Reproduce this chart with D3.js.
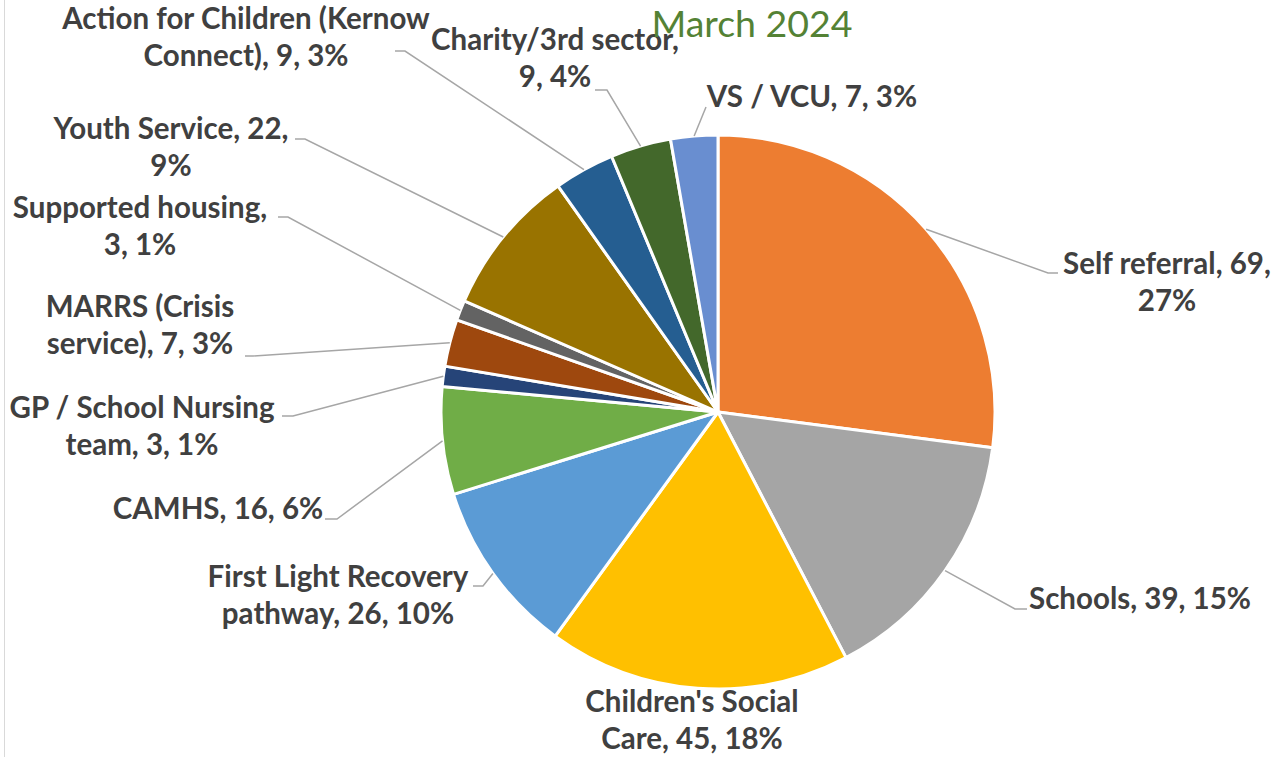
<!DOCTYPE html>
<html>
<head>
<meta charset="utf-8">
<script src="https://cdn.jsdelivr.net/npm/d3@7/dist/d3.min.js"></script>
<style>
  html, body { margin: 0; padding: 0; background: #fff; }
  svg { display: block; }
</style>
</head>
<body>
<div id="plot"></div>
<script>
// data
var categories = ["Self referral", "Schools", "Children's Social Care", "First Light Recovery pathway",
  "CAMHS", "GP / School Nursing team", "MARRS (Crisis service)", "Supported housing",
  "Youth Service", "Action for Children (Kernow Connect)", "Charity/3rd sector", "VS / VCU"];
var counts = [69, 39, 45, 26, 16, 3, 7, 3, 22, 9, 9, 7];
var percents = ["27%", "15%", "18%", "10%", "6%", "1%", "3%", "1%", "9%", "3%", "4%", "3%"];
// how excel wrapped each label
var labelLines = [
  ["Self referral, 69,", "27%"],
  ["Schools, 39, 15%"],
  ["Children's Social", "Care, 45, 18%"],
  ["First Light Recovery", "pathway, 26, 10%"],
  ["CAMHS, 16, 6%"],
  ["GP / School Nursing", "team, 3, 1%"],
  ["MARRS (Crisis", "service), 7, 3%"],
  ["Supported housing,", "3, 1%"],
  ["Youth Service, 22,", "9%"],
  ["Action for Children (Kernow", "Connect), 9, 3%"],
  ["Charity/3rd sector,", "9, 4%"],
  ["VS / VCU, 7, 3%"]
];
var colors = ["#ED7D31", "#A5A5A5", "#FFC000", "#5B9BD5", "#70AD47", "#264478",
  "#9E480E", "#636363", "#997300", "#255E91", "#43682B", "#698ED0"];
var title = "March 2024";

// label placement: text centre x, first baseline y, leader elbow + end
var labelLayout = [
  {x: 1167, y: 274, elbow: [1048, 273], end: [1058, 273]},
  {x: 1140, y: 609, elbow: [1015, 609], end: [1027, 609]},
  {x: 692, y: 712, elbow: null},
  {x: 338, y: 587, elbow: [483, 586], end: [473, 586]},
  {x: 218, y: 519, elbow: [337, 519], end: [325, 519]},
  {x: 142, y: 418, elbow: [293, 416], end: [282, 416]},
  {x: 140, y: 317, elbow: [253, 356], end: [245, 356]},
  {x: 140, y: 218, elbow: [288, 217], end: [278, 217]},
  {x: 171, y: 139, elbow: [305, 139], end: [295, 139]},
  {x: 246, y: 29, elbow: [405, 51], end: [395, 51]},
  {x: 555, y: 50, elbow: [607, 90], end: [595, 90]},
  {x: 812, y: 107, elbow: [706, 107], end: [706, 107]}
];

var width = 1280, height = 757;
var cx = 718, cy = 412, radius = 277;
var lineHeight = 37;

var svg = d3.select("#plot").append("svg")
  .attr("width", width)
  .attr("height", height);

// chart area border on the left
svg.append("line")
  .attr("x1", 4.5).attr("x2", 4.5)
  .attr("y1", 0).attr("y2", height)
  .attr("stroke", "#D9D9D9")
  .attr("stroke-width", 1);

var data = categories.map((c, i) => ({name: c, value: counts[i], i: i}));

var pie = d3.pie().sort(null).value(d => d.value);
var arcs = pie(data);
var arc = d3.arc().innerRadius(0).outerRadius(radius);

var g = svg.append("g").attr("transform", "translate(" + cx + "," + cy + ")");

g.selectAll("path.slice")
  .data(arcs)
  .enter()
  .append("path")
    .attr("class", "slice")
    .attr("d", arc)
    .attr("fill", d => colors[d.data.i])
    .attr("stroke", "#fff")
    .attr("stroke-width", 3)
    .attr("stroke-linejoin", "round");

// leader lines from the outer edge at the slice middle
var edge = d3.arc().innerRadius(radius).outerRadius(radius);
svg.selectAll("path.leader")
  .data(arcs.filter(d => labelLayout[d.data.i].elbow))
  .enter()
  .append("path")
    .attr("class", "leader")
    .attr("d", d => {
      var p = edge.centroid(d);
      var L = labelLayout[d.data.i];
      return d3.line()([[cx + p[0], cy + p[1]], L.elbow, L.end]);
    })
    .attr("fill", "none")
    .attr("stroke", "#A6A6A6")
    .attr("stroke-width", 1.5);

// labels
var labels = svg.selectAll("text.lbl")
  .data(arcs)
  .enter()
  .append("text")
    .attr("class", "lbl")
    .attr("text-anchor", "middle")
    .attr("font-family", "Lato, 'Open Sans', sans-serif")
    .attr("font-weight", "bold")
    .attr("font-size", 29.5)
    .attr("fill", "#404040");

labels.each(function(d) {
  var L = labelLayout[d.data.i];
  d3.select(this).selectAll("tspan")
    .data(labelLines[d.data.i])
    .enter()
    .append("tspan")
      .attr("x", L.x)
      .attr("y", (t, k) => L.y + k * lineHeight)
      .text(t => t);
});

// title
svg.append("text")
  .attr("x", 752)
  .attr("y", 37)
  .attr("text-anchor", "middle")
  .attr("font-family", "Lato, 'Open Sans', sans-serif")
  .attr("font-size", 37.5)
  .attr("fill", "#548235")
  .text(title);
</script>
</body>
</html>
